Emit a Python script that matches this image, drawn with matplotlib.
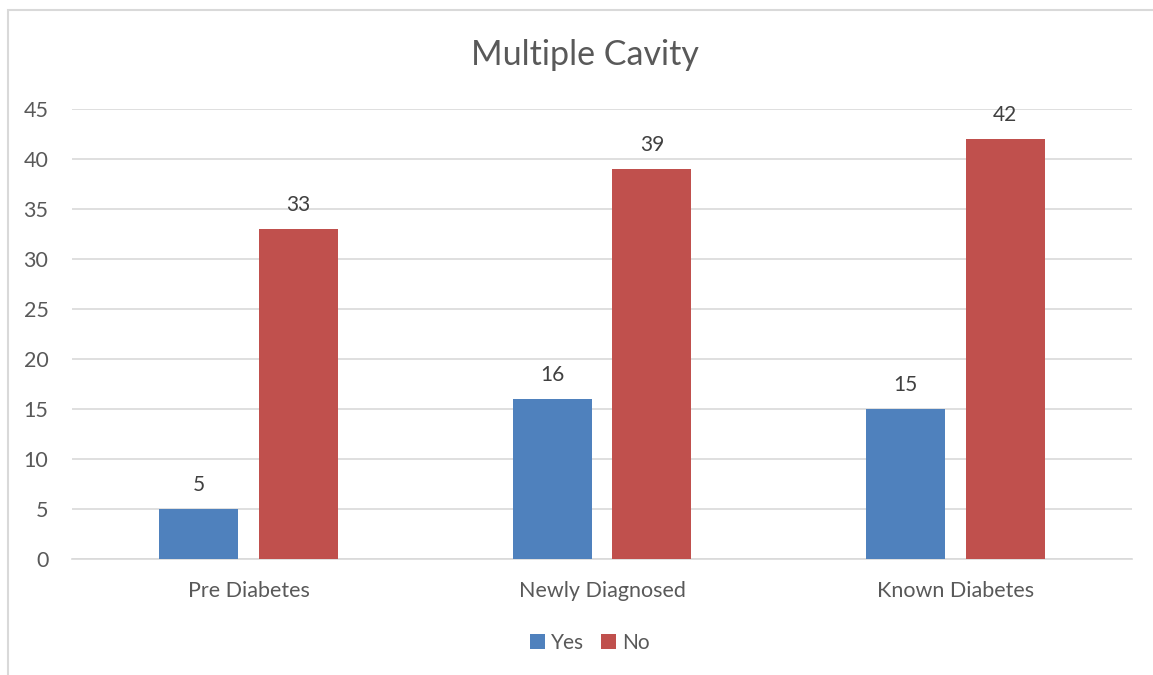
import matplotlib
matplotlib.use("Agg")
import matplotlib.pyplot as plt
from matplotlib.patches import Rectangle
import numpy as np

categories = ["Pre Diabetes", "Newly Diagnosed", "Known Diabetes"]
yes_values = [5, 16, 15]
no_values = [33, 39, 42]
series_names = ["Yes", "No"]
y_ticks = [0, 5, 10, 15, 20, 25, 30, 35, 40, 45]

plt.rcParams["font.family"] = ["Lato", "DejaVu Sans"]
text_color = "#595959"
grid_color = "#D9D9D9"

fig = plt.figure(figsize=(11.53, 6.75), dpi=100)
ax = fig.add_axes([72 / 1153, 1 - 559 / 675, 1060 / 1153, 450 / 675])

x = np.arange(len(categories))
width = 0.2236
offset = 0.1415
bars_yes = ax.bar(x - offset, yes_values, width, color="#4F81BD", label=series_names[0], zorder=3)
bars_no = ax.bar(x + offset, no_values, width, color="#C0504D", label=series_names[1], zorder=3)

for bars, vals in ((bars_yes, yes_values), (bars_no, no_values)):
    for b, v in zip(bars, vals):
        ax.annotate(f"{v}", (b.get_x() + b.get_width() / 2, v), xytext=(0, 10),
                    textcoords="offset points", ha="center", va="bottom",
                    fontsize=15, color="#404040")

ax.set_xlim(-0.5, 2.5)
ax.set_ylim(0, 45)
ax.set_yticks(y_ticks)
ax.set_xticks(x)
ax.set_xticklabels(categories)
ax.tick_params(axis="both", length=0, labelsize=15.5, labelcolor=text_color)
ax.tick_params(axis="y", pad=17)
ax.tick_params(axis="x", pad=16)
ax.grid(axis="y", color=grid_color, linewidth=1.2, zorder=0)
for s in ("top", "right", "left"):
    ax.spines[s].set_visible(False)
ax.spines["bottom"].set_color(grid_color)
ax.spines["bottom"].set_linewidth(1.2)

fig.text(585 / 1153, 1 - 55 / 675, "Multiple Cavity", ha="center", va="center",
         fontsize=24.5, color=text_color)

leg = fig.legend(handles=[bars_yes, bars_no], loc="center", bbox_to_anchor=(590 / 1153, 1 - 643 / 675),
                 ncol=2, frameon=False, fontsize=15, handlelength=0.7, handleheight=0.7,
                 handletextpad=0.3, columnspacing=0.8)
for t in leg.get_texts():
    t.set_color(text_color)

# Chart-area border
fig.patches.append(Rectangle((8 / 1153, -0.01), 1.02, 1 - 10 / 675 + 0.01, transform=fig.transFigure,
                             fill=False, edgecolor="#D9D9D9", linewidth=1.5))

fig.savefig("out.png", dpi=100)
